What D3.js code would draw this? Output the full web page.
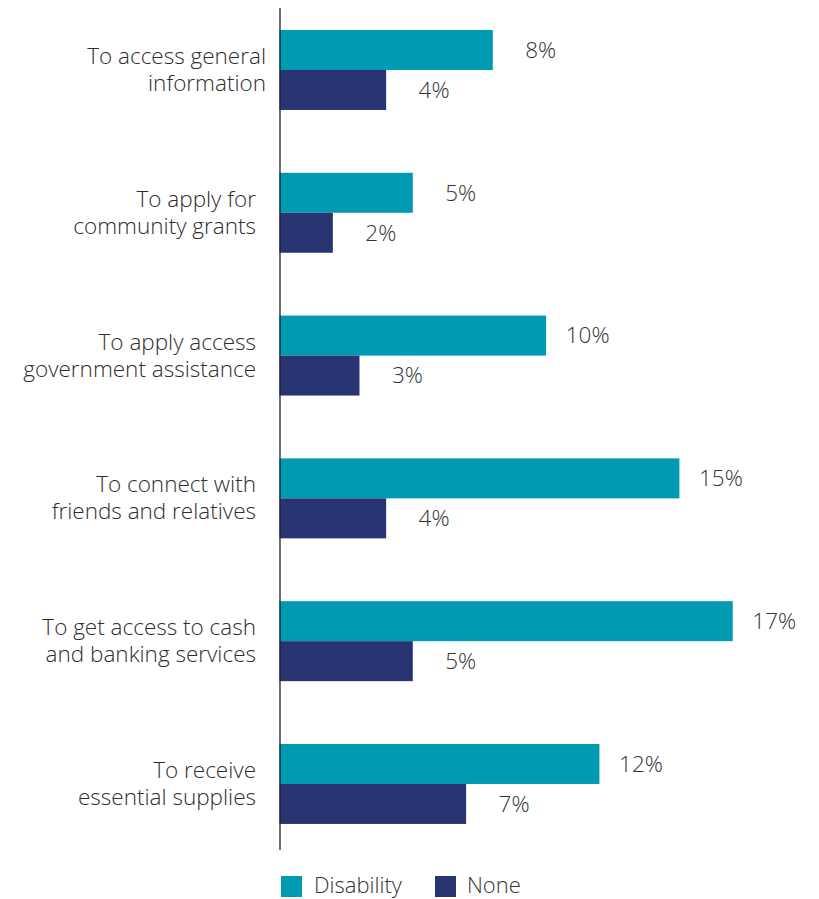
<!DOCTYPE html>
<html>
<head>
<meta charset="utf-8">
<script src="https://cdn.jsdelivr.net/npm/d3@7"></script>
<style>
  html, body { margin: 0; padding: 0; background: #fff; }
  svg { display: block; font-family: "Open Sans", "Noto Sans", sans-serif; font-weight: 300; }
</style>
</head>
<body>
<svg id="chart" width="819" height="899"></svg>
<script>
// Reasons for use, share of respondents (%) by disability status
const categories = [
  ["To access general", "information"],
  ["To apply for", "community grants"],
  ["To apply access", "government assistance"],
  ["To connect with", "friends and relatives"],
  ["To get access to cash", "and banking services"],
  ["To receive", "essential supplies"]
];
const seriesNames = ["Disability", "None"];
const disability = [8, 5, 10, 15, 17, 12];
const none = [4, 2, 3, 4, 5, 7];
const colors = ["#009bb3", "#283372"];
// label right edges differ slightly for the first row
const labelRight = [266, 256, 256, 256, 256, 256];

const svg = d3.select("#chart");
const keys = categories.map(c => c.join(" "));

const x = d3.scaleLinear().domain([0, 20]).range([279.5, 812.7]);
const y = d3.scaleBand().domain(keys).range([1.44, 852.5]).paddingInner(0.44).paddingOuter(0.2);
const ySub = d3.scaleBand().domain(seriesNames).range([0, y.bandwidth()]);
const color = d3.scaleOrdinal().domain(seriesNames).range(colors);

const rows = keys.map((k, i) => ({ key: k, lines: categories[i], idx: i,
  values: [{ s: "Disability", v: disability[i] }, { s: "None", v: none[i] }] }));

const g = svg.selectAll("g.row").data(rows).join("g")
  .attr("class", "row")
  .attr("transform", d => `translate(0,${y(d.key)})`);

g.selectAll("rect").data(d => d.values).join("rect")
  .attr("x", x(0))
  .attr("y", d => ySub(d.s))
  .attr("width", d => x(d.v) - x(0))
  .attr("height", ySub.bandwidth())
  .attr("fill", d => color(d.s));

// value labels, right-aligned a fixed distance past the bar end
g.selectAll("text.val").data(d => d.values).join("text")
  .attr("class", "val")
  .attr("x", d => x(d.v) + 63.5)
  .attr("y", d => ySub(d.s) + ySub.bandwidth() / 2)
  .attr("dy", "0.35em")
  .attr("text-anchor", "end")
  .attr("font-size", 22.5)
  .attr("fill", "#333")
  .text(d => d.v + "%");

// category labels, two lines centred on each group
g.append("text")
  .attr("text-anchor", "end")
  .attr("font-size", 22.5)
  .attr("fill", "#2e2e2e")
  .selectAll("tspan").data(d => d.lines.map(t => ({ t, idx: d.idx })))
  .join("tspan")
  .attr("x", d => labelRight[d.idx])
  .attr("y", (d, j) => y.bandwidth() / 2 + (j === 0 ? -6 : 21))
  .text(d => d.t);

// vertical baseline axis
const yAxis = d3.axisLeft(y).tickSize(0).tickFormat("");
svg.append("g")
  .attr("transform", `translate(${x(0) + 0.5},0)`)
  .call(yAxis)
  .call(a => a.select(".domain").attr("d", "M0,8V850").attr("stroke", "#222").attr("stroke-width", 1.3));

// legend
const legendX = [281, 435];
const legend = svg.append("g").selectAll("g").data(seriesNames).join("g")
  .attr("transform", (d, i) => `translate(${legendX[i]},876)`);
legend.append("rect").attr("width", 21).attr("height", 21).attr("fill", d => color(d));
legend.append("text")
  .attr("x", (d, i) => i === 0 ? 33 : 32)
  .attr("y", 17)
  .attr("font-size", 22)
  .attr("fill", "#333")
  .text(d => d);
</script>
</body>
</html>
